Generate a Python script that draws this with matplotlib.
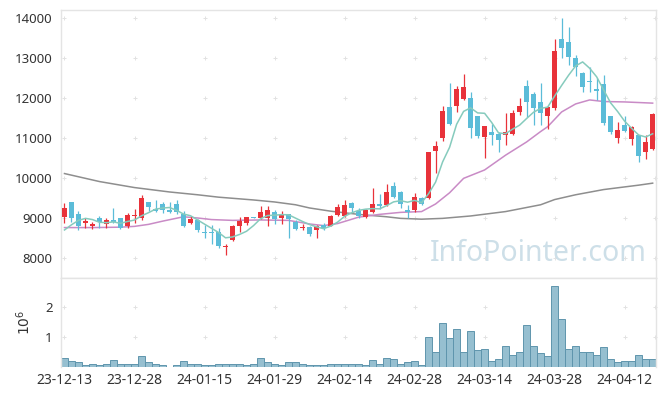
import numpy as np
import pandas as pd
import matplotlib
matplotlib.use('Agg')
import matplotlib.pyplot as plt

plt.rcParams['font.family'] = ['Noto Sans', 'DejaVu Sans']

# daily candles (price), one per trading day, oldest first
opens = [9030, 9390, 9100, 8870, 8790, 8990, 8840, 8960, 9000, 8790,
         9050, 9000, 9390, 9230, 9340, 9210, 9340, 9110, 8870, 8960,
         8650, 8640, 8640, 8270, 8440, 8800, 8880, 9020, 9000, 9000,
         9140, 9000, 9090, 8900, 8740, 8770, 8690, 8830, 8810, 9070,
         9060, 9380, 9180, 9020, 9160, 9340, 9320, 9800, 9640, 9200,
         9190, 9500, 9500, 10680, 10990, 11770, 11800, 11980, 11990, 11550,
         11020, 11140, 11100, 11080, 11100, 11660, 12300, 12100, 11910, 11560,
         11740, 13470, 13410, 12990, 12630, 12430, 12220, 12350, 11550, 11000,
         11320, 10970, 11070, 10660, 10730]
highs = [9370, 9400, 9170, 8990, 8900, 9050, 9000, 9240, 9010, 9120,
         9220, 9570, 9390, 9460, 9410, 9400, 9440, 9180, 9050, 8970,
         8830, 8830, 8740, 8360, 8830, 9020, 9030, 9030, 9310, 9300,
         9200, 9170, 9100, 8950, 8840, 8810, 8830, 8870, 9070, 9350,
         9450, 9410, 9250, 9230, 9740, 9590, 9860, 9910, 9680, 9320,
         9620, 9530, 10660, 10920, 11800, 12370, 12310, 12600, 12160, 11560,
         11310, 11350, 11160, 11620, 11700, 11990, 12450, 12160, 12380, 11800,
         13470, 13990, 13770, 13080, 12640, 12780, 12490, 12570, 11560, 11400,
         11550, 11290, 11080, 11080, 11630]
lows = [8870, 8910, 8710, 8760, 8730, 8760, 8750, 8870, 8730, 8760,
        8880, 8960, 9180, 9140, 9130, 9120, 9110, 8780, 8850, 8650,
        8500, 8340, 8240, 8070, 8430, 8660, 8830, 8990, 8970, 8810,
        8850, 8850, 8490, 8700, 8700, 8560, 8490, 8700, 8790, 9040,
        9020, 9150, 9000, 8990, 9130, 9230, 9300, 9510, 9240, 8990,
        9150, 9320, 9480, 10130, 10920, 11320, 11650, 11950, 10990, 10990,
        10490, 10830, 10660, 10820, 11070, 11580, 11520, 11330, 11330, 11220,
        11700, 13000, 12830, 12550, 12150, 12150, 11950, 11320, 11100, 10880,
        11150, 10820, 10410, 10470, 10700]
closes = [9240, 9010, 8790, 8920, 8840, 8900, 8960, 8890, 8740, 9070,
          9080, 9490, 9280, 9180, 9210, 9150, 9140, 8810, 8970, 8690,
          8620, 8620, 8290, 8300, 8800, 8930, 9020, 9000, 9150, 9200,
          8980, 9090, 8980, 8730, 8780, 8600, 8800, 8750, 9050, 9280,
          9320, 9240, 9060, 9200, 9350, 9290, 9640, 9530, 9350, 9160,
          9520, 9350, 10650, 10800, 11680, 11350, 12220, 12270, 11240, 11050,
          11300, 11080, 10950, 11150, 11620, 11800, 11910, 11740, 11620, 11780,
          13180, 13240, 13020, 12780, 12280, 12390, 12170, 11380, 11160, 11200,
          11180, 11280, 10550, 10910, 11600]
volumes = [330000, 210000, 170000, 70000, 100000, 70000, 130000, 240000, 100000, 100000,
           100000, 370000, 170000, 100000, 70000, 30000, 70000, 200000, 100000, 100000,
           70000, 70000, 130000, 100000, 130000, 130000, 70000, 100000, 300000, 170000,
           130000, 70000, 170000, 170000, 100000, 70000, 70000, 70000, 100000, 130000,
           130000, 100000, 100000, 70000, 240000, 130000, 300000, 270000, 130000, 170000,
           200000, 70000, 1030000, 530000, 1470000, 970000, 1270000, 530000, 1200000, 570000,
           630000, 200000, 270000, 700000, 430000, 500000, 1400000, 700000, 470000, 370000,
           2700000, 1600000, 600000, 700000, 530000, 500000, 430000, 670000, 270000, 170000,
           230000, 200000, 430000, 270000, 270000]

tick_pos = [0, 10, 20, 30, 40, 50, 60, 70, 80]
tick_labels = ['23-12-13', '23-12-28', '24-01-15', '24-01-29', '24-02-14',
               '24-02-28', '24-03-14', '24-03-28', '24-04-12']

# moving averages (need history before the window)
ma5_head = [8700, 8830, 8940, 8990]
ma20_x = [0, 4, 8, 10, 12, 14, 17, 19, 21, 24, 28, 32, 35, 37, 39, 42, 45, 48,
          51, 53, 55, 57, 60, 63, 66, 68, 69, 71, 73, 75, 77, 80, 84]
ma20_y = [8760, 8760, 8770, 8790, 8840, 8920, 9030, 9000, 8960, 8940, 8950, 8940,
          8850, 8810, 8860, 9020, 9090, 9140, 9160, 9350, 9630, 9990, 10200, 10570,
          10900, 11160, 11280, 11650, 11850, 11950, 11910, 11900, 11870]
ma60_x = [0, 5, 10, 15, 19, 22, 27, 30, 33, 35, 38, 42, 46, 48, 51, 54, 58, 63,
          68, 70, 73, 77, 82, 84]
ma60_y = [10110, 9910, 9760, 9650, 9580, 9520, 9450, 9400, 9330, 9250, 9170, 9090,
          9030, 8990, 8970, 8990, 9050, 9160, 9330, 9460, 9580, 9710, 9820, 9870]

up_col = '#e8323a'
down_col = '#5bbcd8'
frame_col = '#e4e4e4'
txt_col = '#333333'

o = np.array(opens); h = np.array(highs); l = np.array(lows); c = np.array(closes)
x = np.arange(len(c))
up = c >= o
cols = np.where(up, up_col, down_col)

ma5 = pd.Series(c).rolling(5).mean().values
ma5[:4] = ma5_head

fig = plt.figure(figsize=(6.65, 3.96), dpi=100)
ax = fig.add_axes([0.0917, 0.298, 0.895, 0.677])
axv = fig.add_axes([0.0917, 0.072, 0.895, 0.226], sharex=ax)

# grid crosses
gx = tick_pos + [84.3]
for yy in range(8000, 14001, 1000):
    ax.scatter(gx, [yy] * len(gx), marker='+', s=12, color='#e2e2e2', lw=0.7, zorder=0, clip_on=False)
for yy in [1e6, 2e6]:
    axv.scatter(gx, [yy] * len(gx), marker='+', s=12, color='#e2e2e2', lw=0.7, zorder=0, clip_on=False)

ax.plot(ma60_x, ma60_y, color='#8e8e8e', lw=1.1, zorder=2)
ax.plot(ma20_x, ma20_y, color='#c98bc6', lw=1.1, zorder=2)

ax.vlines(x, l, h, colors=cols, lw=0.9, zorder=3)
body = np.maximum(np.abs(c - o), 25)
ax.bar(x, body, bottom=np.minimum(o, c), width=0.7, color=cols, zorder=3)

ax.plot(x, ma5, color='#86cbbd', lw=1.1, zorder=4)

ax.text(0.802, 0.092, 'InfoPointer.com', transform=ax.transAxes, fontsize=20.5,
        color='#cddfe8', ha='center', va='center', zorder=1)

ax.set_xlim(-0.5, 84.5)
ax.set_ylim(7500, 14200)
ax.set_yticks(range(8000, 14001, 1000))
ax.tick_params(axis='y', length=0, pad=6, labelsize=9.5, labelcolor=txt_col)
ax.tick_params(axis='x', length=0, labelbottom=False)

axv.bar(x, volumes, width=1.0, color='#96bfd0', edgecolor='#5f95ad', lw=0.7, zorder=2)
axv.set_ylim(0, 2.98e6)
axv.set_yticks([1e6, 2e6])
axv.set_yticklabels(['1', '2'])
axv.set_ylabel(r'$10^6$', color=txt_col, fontsize=10, labelpad=8)
axv.set_xticks(tick_pos)
axv.set_xticklabels(tick_labels)
axv.tick_params(length=0, pad=4, labelsize=10, labelcolor=txt_col)
axv.tick_params(axis='y', pad=6, labelsize=9.5)

for a in (ax, axv):
    for s in a.spines.values():
        s.set_color(frame_col)
        s.set_linewidth(1.0)
axv.spines['bottom'].set_visible(False)

fig.savefig('out.png', dpi=100)
